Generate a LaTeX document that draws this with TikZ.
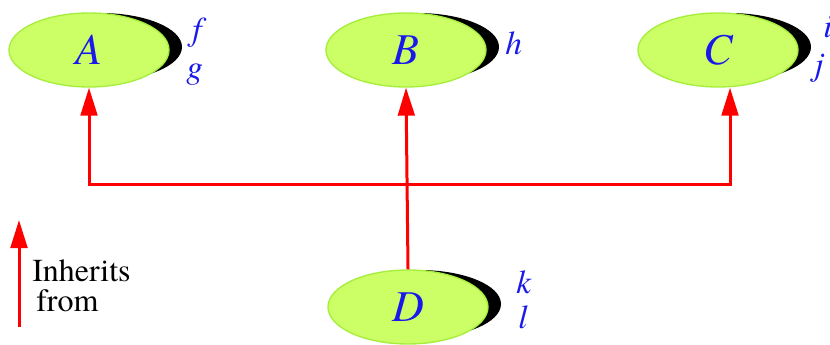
\documentclass[tikz,border=0pt]{standalone}
\usepackage{fontspec}
\setmainfont{texgyretermes}[Extension=.otf,UprightFont=*-regular,ItalicFont=*-italic,BoldFont=*-bold,BoldItalicFont=*-bolditalic]
\usetikzlibrary{shapes.geometric,arrows.meta}
\definecolor{clsfill}{RGB}{204,255,102}
\definecolor{clsline}{RGB}{165,238,60}
\definecolor{lbl}{RGB}{25,25,235}
\begin{document}
\begin{tikzpicture}[x=0.75pt,y=-0.75pt,
  cls/.style={ellipse,fill=clsfill,draw=clsline,line width=1pt,minimum width=120pt,minimum height=55.5pt,inner sep=0pt,text=lbl,font=\fontsize{33}{33}\selectfont\itshape},
  feat/.style={text=lbl,font=\fontsize{25}{25}\selectfont\itshape,inner sep=0pt,anchor=base west},
  shade/.style={fill=black},
  inh/.style={draw=red,line width=2.25pt,-{Triangle[length=21pt,width=12.5pt]}},
  legend/.style={font=\fontsize{24}{24}\selectfont,inner sep=0pt,anchor=base west}]
\useasboundingbox (0,0) rectangle (830,345);
% shadows
\fill[shade] (100,47) ellipse [x radius=61.5pt, y radius=25.5pt];
\fill[shade] (417,47) ellipse [x radius=61.5pt, y radius=25.5pt];
\fill[shade] (729,47) ellipse [x radius=61.5pt, y radius=25.5pt];
\fill[shade] (419,304) ellipse [x radius=61.5pt, y radius=25.5pt];
% classes
\node[cls] (A) at (89,50) {A};
\node[cls] (B) at (406,50) {B};
\node[cls] (C) at (718,50) {C};
\node[cls] (D) at (408,307) {D};
% features
\node[feat] (f) at (192,41) {f};
\node[feat] (g) at (186,79) {g};
\node[feat] (h) at (505,55) {h};
\node[feat] (i) at (823,38) {i};
\node[feat] (j) at (814,76) {j};
\node[feat] (k) at (516,293) {k};
\node[feat] (l) at (518,328) {l};
% inheritance
\coordinate (J) at (408,185);
\draw[inh] (D.north) -- (B.south);
\draw[inh] (J) -| (A.south);
\draw[inh] (J) -| ([xshift=9pt]C.south);
% legend
\coordinate (L1) at (19,327);
\coordinate (L2) at (19,220);
\draw[inh] (L1) -- (L2);
\node[legend] (t1) at (32,281) {Inherits};
\node[legend] (t2) at (36,311) {from};
\end{tikzpicture}
\end{document}
